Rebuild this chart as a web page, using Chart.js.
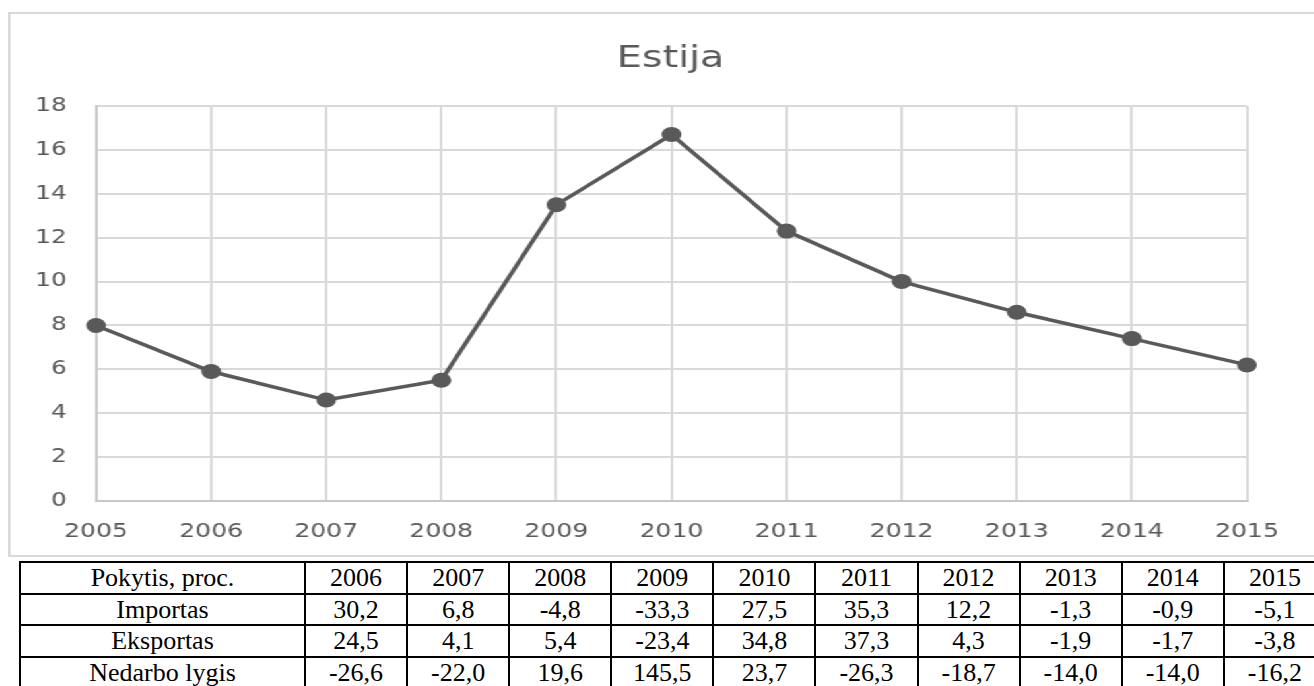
<!DOCTYPE html>
<html>
<head>
<meta charset="utf-8">
<script src="https://cdn.jsdelivr.net/npm/chart.js@4/dist/chart.umd.min.js"></script>
<style>
  html, body { margin: 0; padding: 0; background: #fff; overflow: hidden; }
  body { width: 1314px; height: 686px; position: relative; }
  #frame {
    position: absolute; left: 8px; top: 12px;
    width: 1000px; height: 541px;
    border: 2px solid #d9d9d9;
    transform: scaleX(1.32); transform-origin: 0 0;
  }
  #frame canvas { display: block; }
  #tbl {
    position: absolute; left: 19px; top: 561px;
    width: 1306px;
    border-collapse: collapse; table-layout: fixed;
    font-family: "Liberation Serif", "Times New Roman", serif;
    font-size: 26px; color: #000;
  }
  #tbl td {
    border: 2px solid #000; padding: 0; text-align: center;
    height: 29.7px; line-height: 28px; white-space: nowrap; overflow: hidden;
  }
</style>
</head>
<body>
<div id="frame"><canvas id="myChart" width="1000" height="541"></canvas></div>
<table id="tbl"></table>
<script>
// nedarbo lygis, %
const years = ["2005", "2006", "2007", "2008", "2009", "2010", "2011", "2012", "2013", "2014", "2015"];
const unemployment = [8.0, 5.9, 4.6, 5.5, 13.5, 16.7, 12.3, 10.0, 8.6, 7.4, 6.2];

// lentelė po grafiku
const tableYears = ["2006", "2007", "2008", "2009", "2010", "2011", "2012", "2013", "2014", "2015"];
const importas = [30.2, 6.8, -4.8, -33.3, 27.5, 35.3, 12.2, -1.3, -0.9, -5.1];
const eksportas = [24.5, 4.1, 5.4, -23.4, 34.8, 37.3, 4.3, -1.9, -1.7, -3.8];
const nedarbas = [-26.6, -22.0, 19.6, 145.5, 23.7, -26.3, -18.7, -14.0, -14.0, -16.2];

const fmt = v => v.toFixed(1).replace(".", ",");

let tbl = document.getElementById("tbl");
let colgroup = "<colgroup><col style='width:285px'>" + tableYears.map(() => "<col style='width:102.1px'>").join("") + "</colgroup>";
let rows = [
  ["Pokytis, proc.", tableYears],
  ["Importas", importas.map(fmt)],
  ["Eksportas", eksportas.map(fmt)],
  ["Nedarbo lygis", nedarbas.map(fmt)],
];
tbl.innerHTML = colgroup + rows.map(r => "<tr><td>" + r[0] + "</td>" + r[1].map(c => "<td>" + c + "</td>").join("") + "</tr>").join("");

let ctx = document.getElementById("myChart").getContext("2d");
let estijaChart = new Chart(ctx, {
  type: "line",
  data: {
    labels: years,
    datasets: [
      {
        label: "Estija",
        data: unemployment,
        borderColor: "#595959",
        backgroundColor: "#595959",
        borderWidth: 3.5,
        pointRadius: 7.5,
        pointHoverRadius: 7.5,
        pointBackgroundColor: "#595959",
        pointBorderColor: "#595959",
        pointBorderWidth: 0,
        tension: 0,
      },
    ],
  },
  options: {
    responsive: false,
    animation: false,
    devicePixelRatio: 1,
    layout: {
      padding: 0,
    },
    plugins: {
      legend: { display: false },
      tooltip: { enabled: false },
      title: {
        display: true,
        text: "Estija",
        color: "#595959",
        font: { family: "DejaVu Sans", size: 30, weight: "normal" },
        padding: { top: 27, bottom: 29 },
      },
    },
    scales: {
      x: {
        offset: false,
        grid: { color: "#d9d9d9", lineWidth: 2, drawTicks: false },
        border: { color: "#c8c8c8", width: 2 },
        ticks: {
          color: "#595959",
          font: { family: "DejaVu Sans", size: 19 },
          padding: 20,
          maxRotation: 0,
        },
        afterFit: (scale) => { scale.height = 54; },
      },
      y: {
        min: 0,
        max: 18,
        grid: { color: "#d9d9d9", lineWidth: 2, drawTicks: false },
        border: { color: "#c8c8c8", width: 2 },
        ticks: {
          stepSize: 2,
          color: "#595959",
          font: { family: "DejaVu Sans", size: 19 },
          padding: 22,
        },
        afterFit: (scale) => { scale.width = 64.7; },
      },
      // empty margin on the right so the title stays centred on the whole frame
      spacer: {
        type: "linear",
        position: "right",
        grid: { display: false },
        border: { display: false },
        ticks: { display: false },
        afterFit: (scale) => { scale.width = 63.4; },
      },
    },
  },
});
</script>
</body>
</html>
